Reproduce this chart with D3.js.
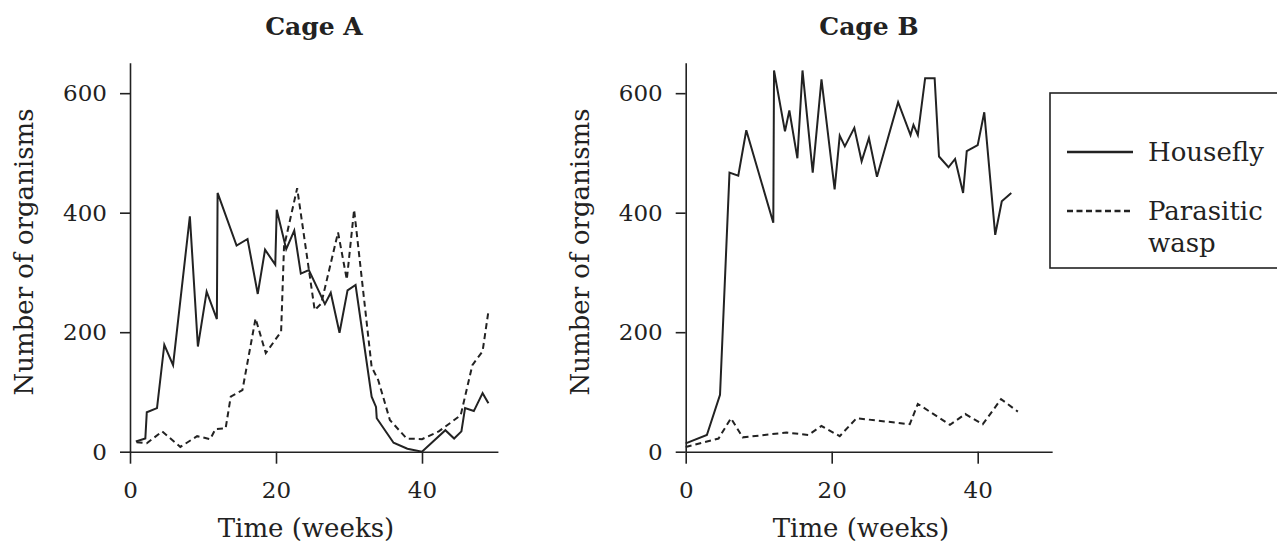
<!DOCTYPE html>
<html>
<head>
<meta charset="utf-8">
<script src="https://cdn.jsdelivr.net/npm/d3@7"></script>
<style>
  body { margin: 0; background: #fff; }
  text { font-family: "DejaVu Serif", serif; fill: #222; }
</style>
</head>
<body>
<script>
// Cage A
var weeksFlyA = [0.8, 2.1, 2.3, 3.7, 4.7, 5.9, 8.2, 9.3, 10.5, 11.9, 12.0, 14.6, 16.1, 17.5, 18.5, 19.9, 20.1, 21.4, 22.5, 23.4, 24.5, 26.7, 27.5, 28.7, 29.8, 30.9, 33.1, 33.7, 33.8, 36.1, 38, 40, 43.2, 44.4, 45.4, 45.9, 47.1, 48.3, 49.1];
var flyA = [17, 22, 66, 73, 179, 145, 394, 176, 268, 222, 433, 345, 356, 264, 338, 313, 405, 339, 370, 298, 304, 247, 266, 199, 270, 279, 92, 75, 56, 15, 5, 0, 36, 22, 34, 73, 68, 98, 81];
var weeksWaspA = [0.9, 2.3, 4.4, 6.9, 9.2, 11.0, 11.7, 13.1, 13.8, 15.4, 17.2, 18.6, 20.7, 21.1, 22.9, 25.3, 26.2, 28.5, 29.7, 30.7, 33.1, 34.0, 35.6, 37.9, 40.0, 42.3, 45.3, 46.9, 48.3, 49.1];
var waspA = [16, 14, 34, 8, 26, 21, 38, 39, 92, 103, 223, 165, 201, 343, 441, 237, 248, 367, 288, 405, 142, 120, 53, 22, 21, 34, 61, 145, 168, 235];

// Cage B
var weeksFlyB = [0, 2.9, 4.7, 6.0, 7.2, 8.3, 12.0, 12.1, 13.6, 14.2, 15.3, 16.0, 17.4, 18.6, 20.4, 21.1, 21.8, 23.1, 24.1, 25.1, 26.2, 29.1, 30.8, 31.2, 31.8, 32.8, 34.1, 34.7, 36.0, 36.9, 38.0, 38.5, 40.0, 40.9, 42.4, 43.3, 44.6];
var flyB = [14, 28, 95, 467, 462, 538, 383, 638, 536, 571, 491, 638, 467, 623, 439, 529, 511, 542, 486, 525, 460, 585, 530, 547, 530, 625, 625, 494, 476, 490, 433, 503, 513, 568, 363, 419, 433];
var weeksWaspB = [0, 4.5, 6.2, 7.8, 13.8, 16.8, 18.6, 21.1, 23.4, 30.7, 31.8, 36.2, 38.3, 40.7, 43.2, 45.5];
var waspB = [8, 22, 56, 24, 32, 28, 43, 26, 56, 46, 80, 45, 63, 46, 88, 67];

var xTicks = [0, 20, 40];
var yTicks = [0, 200, 400, 600];
var seriesNames = ["Housefly", "Parasitic wasp"];

var svg = d3.select("body").append("svg")
    .attr("width", 1277)
    .attr("height", 543);

function panel(title, left, xMax, flyW, fly, waspW, wasp) {
  var x = d3.scaleLinear().domain([0, xMax]).range([left, left + 7.3 * xMax]);
  var y = d3.scaleLinear().domain([0, 651]).range([451.7, 62.7]);

  svg.append("g")
      .attr("transform", "translate(0,451.7)")
      .call(d3.axisBottom(x).tickValues(xTicks).tickSizeInner(12).tickSizeOuter(0).tickPadding(18))
      .call(styleAxis);
  svg.append("g")
      .attr("transform", "translate(" + left + ",0)")
      .call(d3.axisLeft(y).tickValues(yTicks).tickSizeInner(10).tickSizeOuter(0).tickPadding(13))
      .call(styleAxis);

  var line = d3.line().x(function (d) { return x(d[0]); }).y(function (d) { return y(d[1]); });

  svg.append("path")
      .datum(d3.zip(flyW, fly))
      .attr("d", line)
      .attr("fill", "none")
      .attr("stroke", "#222")
      .attr("stroke-width", 2);
  svg.append("path")
      .datum(d3.zip(waspW, wasp))
      .attr("d", line)
      .attr("fill", "none")
      .attr("stroke", "#222")
      .attr("stroke-width", 2)
      .attr("stroke-dasharray", "6,4");

  var mid = (x.range()[0] + x.range()[1]) / 2;
  svg.append("text")
      .attr("x", mid).attr("y", 35)
      .attr("text-anchor", "middle")
      .attr("font-size", 25).attr("font-weight", "bold")
      .text(title);
  svg.append("text")
      .attr("x", mid - 8).attr("y", 537)
      .attr("text-anchor", "middle")
      .attr("font-size", 26)
      .text("Time (weeks)");
  svg.append("text")
      .attr("transform", "translate(" + (left - 97) + ",252) rotate(-90)")
      .attr("text-anchor", "middle")
      .attr("font-size", 26)
      .text("Number of organisms");
}

function styleAxis(g) {
  g.selectAll("path, line").attr("stroke", "#222").attr("stroke-width", 1.6);
  g.selectAll("text").attr("font-size", 23).attr("font-family", "DejaVu Serif").attr("fill", "#222");
}

panel("Cage A", 130, 50.4, weeksFlyA, flyA, weeksWaspA, waspA);
panel("Cage B", 685.7, 50.2, weeksFlyB, flyB, weeksWaspB, waspB);

// legend
var legend = svg.append("g");
legend.append("rect")
    .attr("x", 1050).attr("y", 93)
    .attr("width", 260).attr("height", 175)
    .attr("fill", "none").attr("stroke", "#222").attr("stroke-width", 1.6);
legend.append("line")
    .attr("x1", 1067).attr("x2", 1133).attr("y1", 152).attr("y2", 152)
    .attr("stroke", "#222").attr("stroke-width", 2.5);
legend.append("line")
    .attr("x1", 1067).attr("x2", 1133).attr("y1", 211).attr("y2", 211)
    .attr("stroke", "#222").attr("stroke-width", 2.5)
    .attr("stroke-dasharray", "6,3.5");
legend.append("text").attr("x", 1148).attr("y", 161).attr("font-size", 26).text(seriesNames[0]);
legend.append("text").attr("x", 1148).attr("y", 220).attr("font-size", 26).text("Parasitic");
legend.append("text").attr("x", 1148).attr("y", 252).attr("font-size", 26).text("wasp");
</script>
</body>
</html>
